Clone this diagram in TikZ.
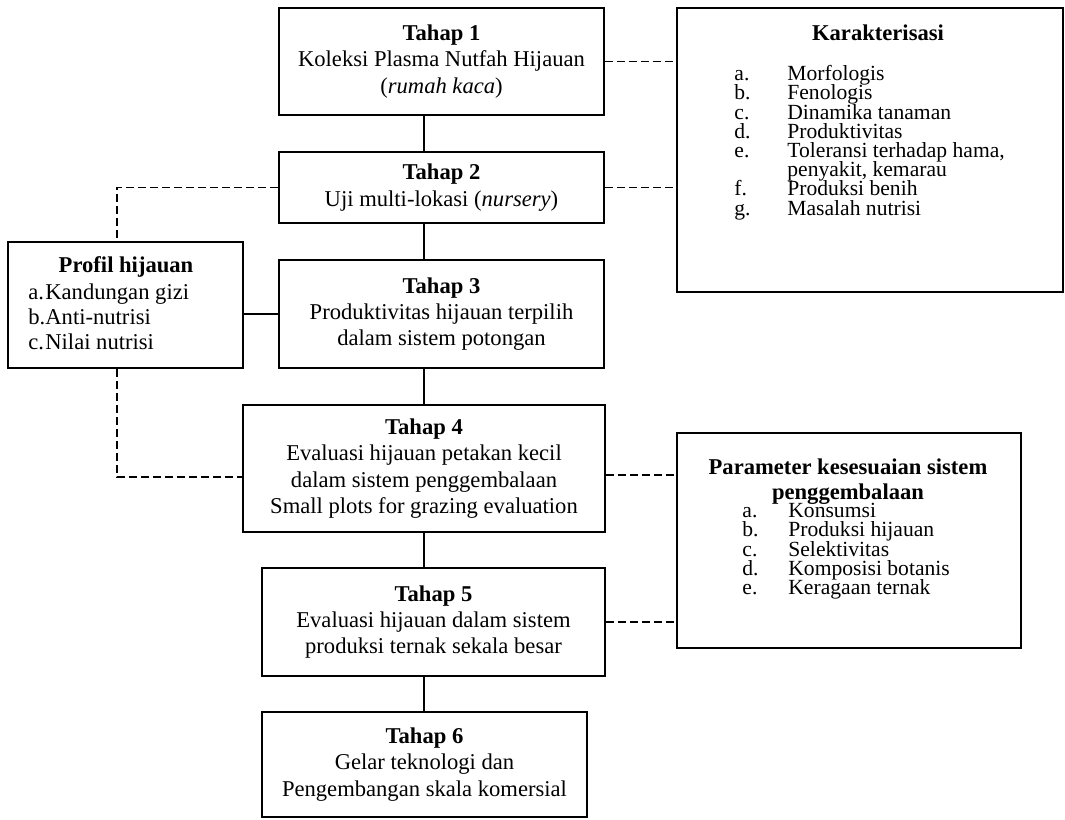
\documentclass[tikz,border=0pt]{standalone}
\usepackage{fontspec}
\setmainfont{Liberation Serif}
\begin{document}
\begin{tikzpicture}[x=0.5pt,y=-0.5pt,
  box/.style={draw,line width=0.9pt,inner sep=0pt,align=center,font=\fontsize{11.3}{13.2}\selectfont},
  link/.style={line width=0.8pt},
  dlink/.style={line width=0.8pt,dash pattern=on 4pt off 2pt},
  ttl/.style={inner sep=0pt,align=center,font=\fontsize{11.3}{12.5}\selectfont\bfseries},
  lst/.style={inner sep=0pt,align=left,font={\fontsize{10.8}{9.6}\selectfont\lineskiplimit=-20pt}},
  plst/.style={inner sep=0pt,align=left,font=\fontsize{11.3}{12.7}\selectfont}]
\useasboundingbox (0,0) rectangle (1065,819);
\coordinate (ax) at (424,0);
% main stages
\node[box,minimum width=162.5pt,minimum height=53.5pt] (t1) at (441.5,61.5)
  {\textbf{Tahap 1}\\Koleksi Plasma Nutfah Hijauan\\(\textit{rumah kaca})};
\node[box,minimum width=162.5pt,minimum height=35.5pt] (t2) at (441.5,187.5)
  {\textbf{Tahap 2}\\Uji multi-lokasi (\textit{nursery})};
\node[box,minimum width=162.5pt,minimum height=54pt] (t3) at (441.5,314)
  {\textbf{Tahap 3}\\Produktivitas hijauan terpilih\\dalam sistem potongan};
\node[box,minimum width=181pt,minimum height=63.5pt] (t4) at (424,468.5)
  {\textbf{Tahap 4}\\Evaluasi hijauan petakan kecil\\dalam sistem penggembalaan\\Small plots for grazing evaluation};
\node[box,minimum width=171.5pt,minimum height=54pt] (t5) at (433.5,622)
  {\textbf{Tahap 5}\\Evaluasi hijauan dalam sistem\\produksi ternak sekala besar};
\node[box,minimum width=162.5pt,minimum height=52.5pt] (t6) at (424.5,764.5)
  {\textbf{Tahap 6}\\Gelar teknologi dan\\Pengembangan skala komersial};
% side boxes
\node[box,minimum width=117.5pt,minimum height=63pt] (prof) at (125.5,305) {};
\node[ttl] (proft) at (126,267) {Profil hijauan};
\node[plst,anchor=north west] (profl) at (28,283)
  {\makebox[8.5pt][l]{a.}Kandungan gizi\\\makebox[8.5pt][l]{b.}Anti-nutrisi\\\makebox[8.5pt][l]{c.}Nilai nutrisi};
\node[box,minimum width=193pt,minimum height=142pt] (kar) at (870,150) {};
\node[ttl] (kart) at (878,33) {Karakterisasi};
\node[lst,anchor=north west] (karl) at (734,65)
  {\makebox[26.5pt][l]{a.}Morfologis\\
   \makebox[26.5pt][l]{b.}Fenologis\\
   \makebox[26.5pt][l]{c.}Dinamika tanaman\\
   \makebox[26.5pt][l]{d.}Produktivitas\\
   \makebox[26.5pt][l]{e.}Toleransi terhadap hama,\\
   \makebox[26.5pt][l]{}penyakit, kemarau\\
   \makebox[26.5pt][l]{f.}Produksi benih\\
   \makebox[26.5pt][l]{g.}Masalah nutrisi};
\node[box,minimum width=172pt,minimum height=107.5pt] (par) at (849,540.5) {};
\node[ttl,anchor=north] (part) at (848,458) {Parameter kesesuaian sistem\\penggembalaan};
\node[lst,anchor=north west] (parl) at (742,503)
  {\makebox[23pt][l]{a.}Konsumsi\\
   \makebox[23pt][l]{b.}Produksi hijauan\\
   \makebox[23pt][l]{c.}Selektivitas\\
   \makebox[23pt][l]{d.}Komposisi botanis\\
   \makebox[23pt][l]{e.}Keragaan ternak};
% solid connectors
\draw[link] (t1.south -| ax) -- (t2.north -| ax);
\draw[link] (t2.south -| ax) -- (t3.north -| ax);
\draw[link] (t3.south -| ax) -- (t4.north -| ax);
\draw[link] (t4.south -| ax) -- (t5.north -| ax);
\draw[link] (t5.south -| ax) -- (t6.north -| ax);
\draw[link] (prof.east |- t3.west) -- (t3.west);
% dashed connectors
\draw[dlink] (t1.east) -- (t1.east -| kar.west);
\draw[dlink] (t2.east) -- (t2.east -| kar.west);
\draw[dlink] ([yshift=-3.25pt]t4.east) -- ([yshift=-3.25pt]t4.east -| par.west);
\draw[dlink] (t5.east) -- (t5.east -| par.west);
\draw[dlink] (t2.west) -| ([xshift=-4.25pt]prof.north);
\draw[dlink] ([xshift=-4.25pt]prof.south) |- ([yshift=-4.25pt]t4.west);
\end{tikzpicture}
\end{document}
